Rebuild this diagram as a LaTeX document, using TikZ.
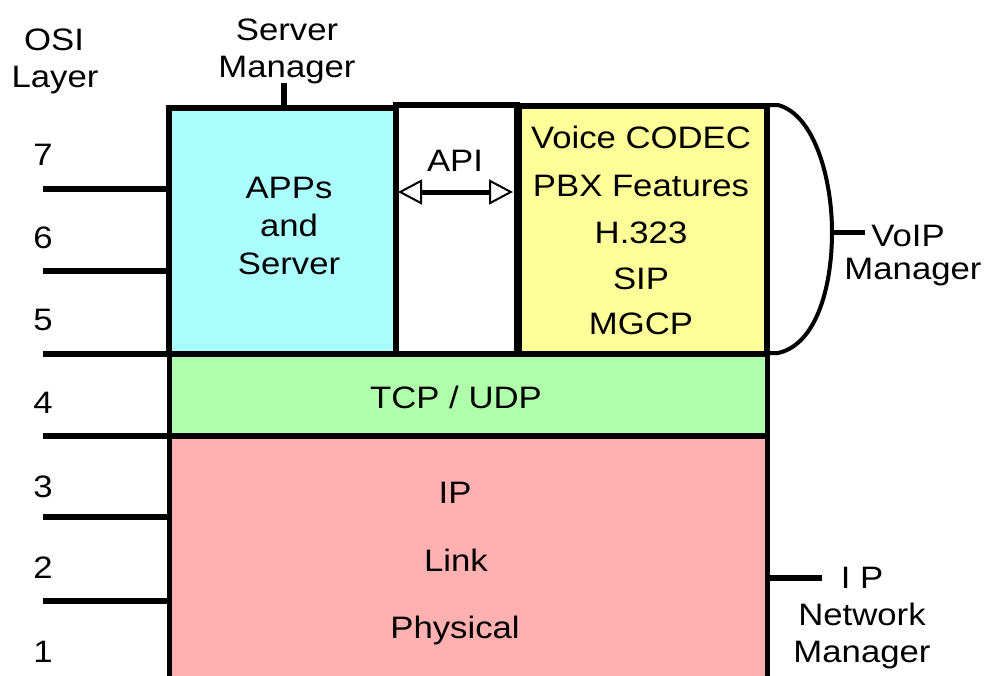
\documentclass[tikz,border=0pt]{standalone}
\usepackage{fontspec}
\setmainfont{Liberation Sans}[FakeStretch=1.12]
\usetikzlibrary{arrows.meta}
\definecolor{cyanF}{RGB}{170,255,255}
\definecolor{yellowF}{RGB}{255,255,153}
\definecolor{greenF}{RGB}{176,255,170}
\definecolor{pinkF}{RGB}{255,176,176}
\tikzset{
  box/.style={draw=black, line width=5.5pt, rectangle, inner sep=0pt, outer sep=0pt},
  txt/.style={anchor=base, inner sep=0pt, font=\fontsize{31}{37}\selectfont},
  tick/.style={line width=5.5pt},
  brace/.style={line width=4pt, line join=round}
}
\begin{document}
\begin{tikzpicture}[x=1pt,y=-1pt]
\clip (0,0) rectangle (984,675);
\fill[white] (0,0) rectangle (984,675);
% boxes
\node[box, fill=pinkF, minimum width=598pt, minimum height=270pt] (pink) at (468.5,571) {};
\node[box, fill=greenF, minimum width=598pt, minimum height=82pt] (green) at (468.5,395) {};
\node[box, fill=cyanF, minimum width=227pt, minimum height=246pt] (apps) at (282.5,231) {};
\node[box, fill=white, minimum width=121pt, minimum height=249pt] (api) at (456.5,229.5) {};
\node[box, fill=yellowF, minimum width=248pt, minimum height=248pt] (voice) at (643,230) {};
% OSI layer label
\node[txt] (osi1) at (54,50) {OSI};
\node[txt] (osi2) at (55,87) {Layer};
% layer numbers
\node[txt] (n7) at (43,165) {7};
\node[txt] (n6) at (43,248) {6};
\node[txt] (n5) at (43,330) {5};
\node[txt] (n4) at (43,413) {4};
\node[txt] (n3) at (43,497) {3};
\node[txt] (n2) at (43,578) {2};
\node[txt] (n1) at (43,662) {1};
% layer lines
\coordinate (c7) at (43,189);
\coordinate (c6) at (43,271);
\coordinate (c5) at (43,354);
\coordinate (c4) at (43,436);
\coordinate (c3) at (43,517);
\coordinate (c2) at (43,601);
\foreach \c in {c7,c6,c5,c4,c3,c2}{
  \draw[tick] (\c) -- (\c -| pink.west);
}
% server manager
\node[txt] (sm1) at (287,40) {Server};
\node[txt] (sm2) at (287,77) {Manager};
\coordinate (smt) at (284,83);
\draw[tick] (smt) -- (smt |- apps.north);
% apps text
\node[txt] (a1) at (289,198) {APPs};
\node[txt] (a2) at (289,236) {and};
\node[txt] (a3) at (289,274) {Server};
% API
\node[txt] (apit) at (455,171) {API};
\coordinate (apiL) at (398,192);
\coordinate (apiR) at (513,192);
\draw[line width=5pt, {Triangle[open,length=24pt,width=25pt,line width=2pt]}-{Triangle[open,length=24pt,width=25pt,line width=2pt]}] (apiL) -- (apiR);
% voice text
\node[txt] (v1) at (641,148) {Voice CODEC};
\node[txt] (v2) at (641,196) {PBX Features};
\node[txt] (v3) at (641,243) {H.323};
\node[txt] (v4) at (641,289) {SIP};
\node[txt] (v5) at (641,334) {MGCP};
% TCP
\node[txt] (tcp) at (456,408) {TCP / UDP};
% IP stack
\node[txt] (ip1) at (455,503) {IP};
\node[txt] (ip2) at (456,571) {Link};
\node[txt] (ip3) at (455,638) {Physical};
% VoIP brace
\coordinate (bt) at (767,105);
\coordinate (bb) at (767,353);
\coordinate (bm) at (832,232);
\draw[brace] (bt) -- (778,105) .. controls (815,115) and (832,180) .. (bm) .. controls (832,290) and (815,345) .. (778,353) -- (bb);
\coordinate (vt) at (865,232);
\draw[tick, line width=5pt] (bm) -- (vt);
\node[txt] (vo1) at (908,246) {VoIP};
\node[txt] (vo2) at (913,279) {Manager};
% IP network manager
\coordinate (it) at (822,578);
\draw[tick] (it -| pink.east) -- (it);
\node[txt] (in1) at (862,588) {I P};
\node[txt] (in2) at (862,625) {Network};
\node[txt] (in3) at (862,662) {Manager};
\end{tikzpicture}
\end{document}
